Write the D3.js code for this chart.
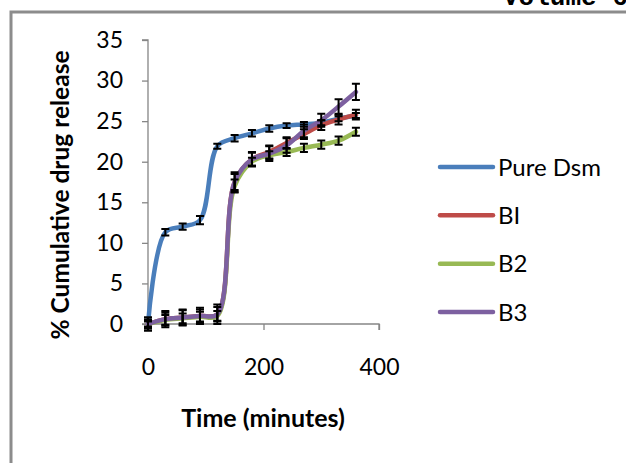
<!DOCTYPE html>
<html>
<head>
<meta charset="utf-8">
<script src="https://cdn.jsdelivr.net/npm/d3@7"></script>
<style>
  html, body { margin: 0; padding: 0; background: #fff; }
  svg { display: block; }
  text { font-family: Lato, "Noto Sans", sans-serif; fill: #000; }
</style>
</head>
<body>
<svg id="chart" width="626" height="463"></svg>
<script>
// Sampling times (minutes)
const times = [0, 30, 60, 90, 120, 150, 180, 210, 240, 270, 300, 330, 360];

// Cumulative drug release (%) per formulation
const pureDsm = [0, 11.3, 12.0, 12.8, 21.9, 22.9, 23.5, 24.1, 24.45, 24.6, 24.8, 25.3, 25.7];
const b1      = [0, 0.6, 0.8, 1.0, 1.2, 17.5, 20.3, 21.2, 22.3, 23.4, 24.5, 25.2, 25.8];
const b2      = [0, 0.5, 0.7, 0.9, 1.0, 17.0, 20.0, 20.8, 21.2, 21.7, 22.1, 22.6, 23.7];
const b3      = [0, 0.6, 0.8, 1.0, 1.2, 17.5, 20.3, 21.0, 22.0, 23.8, 25.1, 26.8, 28.6];

// Standard deviations shown as error bars
const errPure = [0.3, 0.4, 0.4, 0.5, 0.3, 0.4, 0.4, 0.4, 0.3, 0.3, 0.3, 0.3, 0.3];
const errB1   = [0.8, 0.8, 0.9, 0.8, 0.9, 1.2, 0.8, 0.8, 0.7, 0.6, 0.6, 0.6, 0.6];
const errB2   = [0.5, 0.6, 0.6, 0.6, 0.6, 0.8, 0.5, 0.5, 0.5, 0.5, 0.5, 0.5, 0.5];
const errB3   = [0.8, 1.0, 1.0, 1.0, 1.2, 1.0, 0.9, 0.9, 0.9, 0.8, 0.8, 0.9, 1.0];

const seriesNames = ["Pure Dsm", "BI", "B2", "B3"];
const seriesColors = ["#4A7EBB", "#BE4B48", "#98B954", "#7D60A0"];
const xTicks = [0, 200, 400];
const yTicks = [0, 5, 10, 15, 20, 25, 30, 35];

const series = [
  { name: seriesNames[0], color: seriesColors[0], values: pureDsm, err: errPure },
  { name: seriesNames[1], color: seriesColors[1], values: b1, err: errB1 },
  { name: seriesNames[2], color: seriesColors[2], values: b2, err: errB2 },
  { name: seriesNames[3], color: seriesColors[3], values: b3, err: errB3 }
];

const svg = d3.select("#chart");

// Page frame and running header fragment
svg.append("text")
  .attr("x", 503).attr("y", 5)
  .style("font-family", "'Liberation Mono', monospace")
  .style("font-weight", "bold")
  .style("font-size", "26px")
  .text("Volume 6");
svg.append("path")
  .attr("d", "M11,463 V12 H626")
  .attr("fill", "none")
  .attr("stroke", "#8c8c8c")
  .attr("stroke-width", 3);

const x = d3.scaleLinear().domain([0, 400]).range([148, 379]);
const y = d3.scaleLinear().domain([0, 35]).range([324, 40]);

// Axes
const axisColor = "#868686";
const yAxis = svg.append("g").attr("transform", `translate(${x(0)},0)`)
  .call(d3.axisLeft(y).tickValues(yTicks).tickSize(6).tickPadding(19));
const xAxis = svg.append("g").attr("transform", `translate(0,${y(0)})`)
  .call(d3.axisBottom(x).tickValues(xTicks).tickSize(6).tickPadding(29));
[xAxis, yAxis].forEach(g => {
  g.select(".domain").attr("stroke", axisColor).attr("stroke-width", 1.3);
  g.selectAll(".tick line").attr("stroke", axisColor).attr("stroke-width", 1.3);
  g.selectAll(".tick text")
    .style("font-family", "Lato, sans-serif")
    .style("font-size", "23px")
    .attr("fill", "#000");
});
yAxis.select(".domain").attr("d", `M-6,${y(35)}H0V${y(0)}H-6`);
xAxis.select(".domain").attr("d", `M${x(0)},6V0H${x(400)}V6`);

// Smoothed release curves
const line = d3.line()
  .x((d, i) => x(times[i]))
  .y(d => y(d))
  .curve(d3.curveCatmullRom.alpha(0.5));

svg.append("g").selectAll("path")
  .data(series)
  .join("path")
  .attr("d", s => line(s.values))
  .attr("fill", "none")
  .attr("stroke", s => s.color)
  .attr("stroke-width", 4.5)
  .attr("stroke-linejoin", "round")
  .attr("stroke-linecap", "round");

// Error bars
const capW = 4;
const bars = svg.append("g").attr("stroke", "#000").attr("stroke-width", 2);
series.forEach(s => {
  s.values.forEach((v, i) => {
    const cx = x(times[i]);
    const y1 = y(v + s.err[i]);
    const y2 = y(v - s.err[i]);
    bars.append("path")
      .attr("fill", "none")
      .attr("d", `M${cx},${y1}V${y2}M${cx - capW},${y1}H${cx + capW}M${cx - capW},${y2}H${cx + capW}`);
  });
});

// Axis titles
svg.append("text")
  .attr("x", 263).attr("y", 427)
  .attr("text-anchor", "middle")
  .style("font-weight", "bold")
  .style("font-size", "25px")
  .text("Time (minutes)");
svg.append("text")
  .attr("transform", "translate(69,195) rotate(-90)")
  .attr("text-anchor", "middle")
  .style("font-weight", "bold")
  .style("font-size", "24.5px")
  .text("% Cumulative drug release");

// Legend
const legendY = d3.scalePoint().domain(seriesNames).range([167, 312]);
const legend = svg.append("g").selectAll("g")
  .data(series)
  .join("g")
  .attr("transform", s => `translate(440,${legendY(s.name)})`);
legend.append("line")
  .attr("x1", 0).attr("x2", 53)
  .attr("stroke", s => s.color)
  .attr("stroke-width", 4.5)
  .attr("stroke-linecap", "round");
legend.append("text")
  .attr("x", 58).attr("dy", "0.36em")
  .style("font-size", "24px")
  .text(s => s.name);
</script>
</body>
</html>
